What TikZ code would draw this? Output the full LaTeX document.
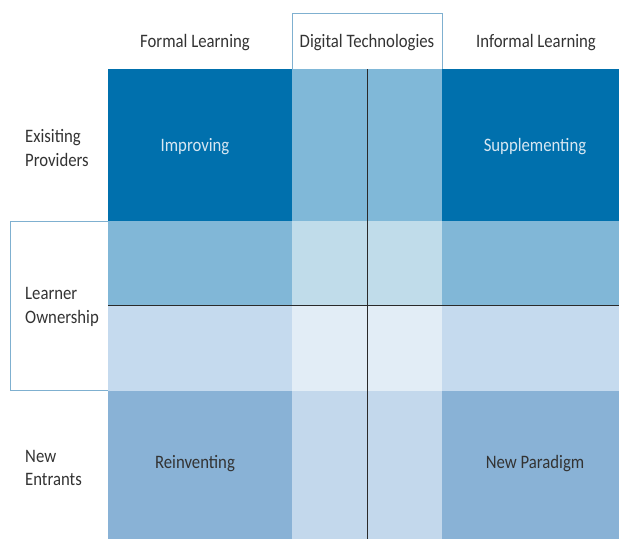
\documentclass[tikz,border=0pt]{standalone}
\usepackage{fontspec}
\setmainfont{Carlito}
\definecolor{dkblue}{HTML}{0070AD}
\definecolor{rowAdig}{HTML}{80B8D8}
\definecolor{rowBside}{HTML}{81B7D7}
\definecolor{rowBdig}{HTML}{C0DCEA}
\definecolor{rowCside}{HTML}{C5DAEE}
\definecolor{rowCdig}{HTML}{E2EDF6}
\definecolor{rowDside}{HTML}{89B2D6}
\definecolor{rowDdig}{HTML}{C3D8EC}
\definecolor{txtgray}{HTML}{333333}
\definecolor{txtlight}{HTML}{D8E7F2}
\definecolor{frameblue}{HTML}{7FB0D0}
\definecolor{linegray}{HTML}{2A2A2A}
\newcommand{\condtxt}[1]{\scalebox{0.88}[1]{#1}}
\newcommand{\condtwo}[2]{\scalebox{0.88}[1]{\begin{tabular}{@{}l@{}}#1\\[0.5pt]#2\end{tabular}}}
\tikzset{
  lbl/.style={font=\fontsize{19}{23}\selectfont, text=txtgray, inner sep=0pt, align=center},
  sidelbl/.style={font=\fontsize{19}{23}\selectfont, text=txtgray, inner sep=0pt, anchor=west},
  celllight/.style={font=\fontsize{19}{23}\selectfont, text=txtlight, inner sep=0pt},
  celldark/.style={font=\fontsize{19}{23}\selectfont, text=txtgray, inner sep=0pt},
  frame/.style={draw=frameblue, line width=0.9pt},
  axis/.style={draw=linegray, line width=1pt}
}
\begin{document}
\begin{tikzpicture}[x=1pt,y=-1pt]
\useasboundingbox (0,0) rectangle (619,539);
\fill[white] (0,0) rectangle (619,539);
% frames
\draw[frame] (292,69) -- (292,13) -- (442,13) -- (442,69);
\draw[frame] (108,221) -- (10,221) -- (10,390) -- (108,390);
% row 1
\fill[dkblue] (108,69) rectangle (292,221);
\fill[rowAdig] (292,69) rectangle (442,221);
\fill[dkblue] (442,69) rectangle (619,221);
% row 2
\fill[rowBside] (108,221) rectangle (292,305.5);
\fill[rowBdig] (292,221) rectangle (442,305.5);
\fill[rowBside] (442,221) rectangle (619,305.5);
% row 3
\fill[rowCside] (108,305.5) rectangle (292,390.5);
\fill[rowCdig] (292,305.5) rectangle (442,390.5);
\fill[rowCside] (442,305.5) rectangle (619,390.5);
% row 4
\fill[rowDside] (108,390.5) rectangle (292,539);
\fill[rowDdig] (292,390.5) rectangle (442,539);
\fill[rowDside] (442,390.5) rectangle (619,539);
% axes
\coordinate (vtop) at (367.5,69);
\coordinate (vbot) at (367.5,539);
\coordinate (hleft) at (108,305.5);
\coordinate (hright) at (619,305.5);
\draw[axis] (vtop) -- (vbot);
\draw[axis] (hleft) -- (hright);
% headers
\node[lbl] (formal) at (195,43) {\condtxt{Formal Learning}};
\node[lbl] (digital) at (367,43) {\condtxt{Digital Technologies}};
\node[lbl] (informal) at (536,43) {\condtxt{Informal Learning}};
% side labels
\node[sidelbl] (exist) at (25,150) {\condtwo{Exisiting}{Providers}};
\node[sidelbl] (learner) at (25,307) {\condtwo{Learner}{Ownership}};
\node[sidelbl] (newent) at (25,469.5) {\condtwo{New}{Entrants}};
% cell labels
\node[celllight] (improving) at (195,147) {\condtxt{Improving}};
\node[celllight] (supplementing) at (535,147) {\condtxt{Supplementing}};
\node[celldark] (reinventing) at (195,464) {\condtxt{Reinventing}};
\node[celldark] (paradigm) at (535,464) {\condtxt{New Paradigm}};
\end{tikzpicture}
\end{document}
